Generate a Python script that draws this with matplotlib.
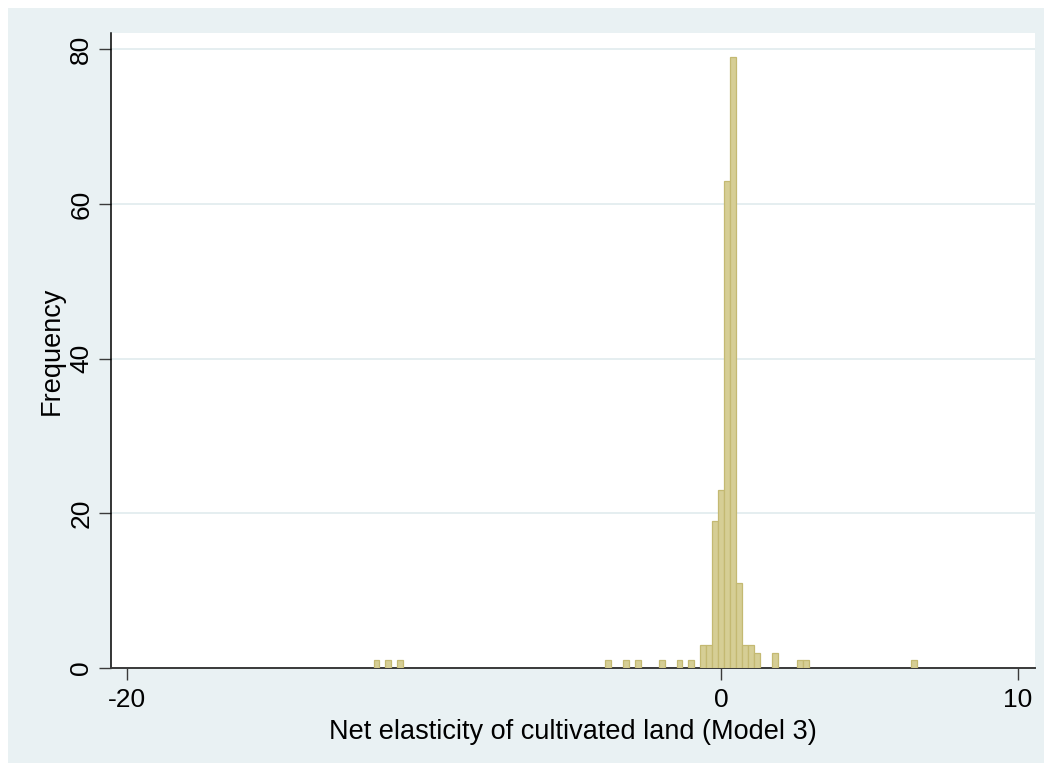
import numpy as np
import matplotlib
matplotlib.use("Agg")
import matplotlib.pyplot as plt
from matplotlib.patches import Rectangle

plt.rcParams['font.family'] = ['Liberation Sans', 'DejaVu Sans']
plt.rcParams['axes.unicode_minus'] = False

# bin centres and frequencies, bin width 0.2
bin_centers = [-11.60, -11.20, -10.80,
               -3.80, -3.20, -2.80, -2.00, -1.40, -1.00,
               -0.60, -0.40, -0.20, 0.00, 0.20, 0.40, 0.60, 0.80, 1.00, 1.20,
               1.82, 2.65, 2.85, 6.50]
counts = [1, 1, 1,
          1, 1, 1, 1, 1, 1,
          3, 3, 19, 23, 63, 79, 11, 3, 3, 2,
          2, 1, 1, 1]
bin_width = 0.2

x_ticks = [-20, 0, 10]
y_ticks = [0, 20, 40, 60, 80]

bg = '#e9f1f3'
fill = '#d6ce95'
edge = '#c4b972'

fig = plt.figure(figsize=(10.52, 7.71), dpi=100, facecolor='white')
fig.add_artist(Rectangle((8 / 1052, 8 / 771), 1036 / 1052, 755 / 771,
                         transform=fig.transFigure, facecolor=bg,
                         edgecolor='none', zorder=-10))

ax = fig.add_axes([110.7 / 1052, 103 / 771, (1035 - 110.7) / 1052, (668 - 33) / 771])
ax.set_facecolor('white')

ax.bar(bin_centers, counts, width=bin_width, color=fill, edgecolor=edge,
       linewidth=0.9, zorder=3)

ax.set_xlim(-20.55, 10.57)
ax.set_ylim(0, 82.1)
ax.set_xticks(x_ticks)
ax.set_yticks(y_ticks)
ax.set_yticklabels([str(v) for v in y_ticks], rotation=90, va='center')

ax.yaxis.grid(True, color='#e3edef', linewidth=1.3, zorder=0)
ax.set_axisbelow(True)

for s in ['top', 'right']:
    ax.spines[s].set_visible(False)
ax.spines['left'].set_color('black')
ax.spines['left'].set_linewidth(1.1)
ax.spines['bottom'].set_color('#3a3a3a')
ax.spines['bottom'].set_linewidth(1.4)

ax.tick_params(axis='both', direction='out', length=8.5, width=1.0,
               color='#3a3a3a', labelsize=19, pad=6)
ax.tick_params(axis='y', pad=4)

ax.set_xlabel('Net elasticity of cultivated land (Model 3)', fontsize=19.5, labelpad=5)
ax.set_ylabel('Frequency', fontsize=19.5, labelpad=3)

fig.savefig('out.png', dpi=100, facecolor=fig.get_facecolor())
